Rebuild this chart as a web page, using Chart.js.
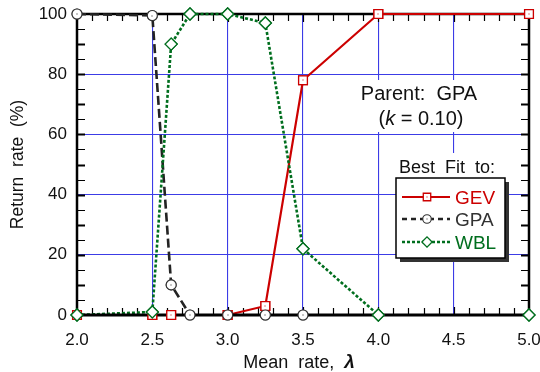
<!DOCTYPE html>
<html>
<head>
<meta charset="utf-8">
<script src="https://cdn.jsdelivr.net/npm/chart.js@4/dist/chart.umd.min.js"></script>
<style>
  html, body { margin: 0; padding: 0; background: #fff; }
  #wrap { width: 540px; height: 372px; }
</style>
</head>
<body>
<div id="wrap"><canvas id="c" width="540" height="372"></canvas></div>
<script>
// Mean rate (lambda) at which each fit was evaluated
const meanRate  = [2.0, 2.5, 2.625, 2.75, 3.0, 3.25, 3.5, 4.0, 5.0];
// Return rate (%) of the best fit for each candidate distribution
const gevReturn = [0, 0, 0, null, 0, 3, 78, 100, 100];
const gpaReturn = [100, 99.5, 10, 0, 0, 0, 0, null, null];
const wblReturn = [0, 1, 90, 100, 100, 97, 22, 0, 0];
const seriesNames = ['GEV', 'GPA', 'WBL'];
const xTickValues = [2.0, 2.5, 3.0, 3.5, 4.0, 4.5, 5.0];
const yTickValues = [0, 20, 40, 60, 80, 100];

const FONT = '"Liberation Sans", Arial, Helvetica, sans-serif';
const RED = 'rgb(204,0,0)';
const DARK = 'rgb(35,35,35)';
const GREEN = 'rgb(0,110,30)';
const GRID = 'rgb(60,60,230)';

const toPoints = ys => meanRate.map((x, i) => ({ x, y: ys[i] }));

Chart.defaults.font.family = FONT;
Chart.defaults.font.size = 17;
Chart.defaults.color = '#111';

// frame, inward tick marks and white label panels
const framePlugin = {
  id: 'frame',
  beforeDatasetsDraw(chart) {
    const { ctx, chartArea: a, scales: { x, y } } = chart;
    ctx.save();
    ctx.fillStyle = '#fff';
    ctx.fillRect(352, 80, 134, 52);
    ctx.fillRect(398, 153, 104, 25);

    ctx.strokeStyle = '#000';
    for (let i = 1; i < 30; i++) {
      const px = Math.round(x.getPixelForValue(2 + i * 0.1)) + 0.5;
      const len = i % 5 === 0 ? 8 : 7;
      ctx.lineWidth = 1.2;
      ctx.beginPath();
      ctx.moveTo(px, a.bottom); ctx.lineTo(px, a.bottom - len);
      ctx.moveTo(px, a.top); ctx.lineTo(px, a.top + len);
      ctx.stroke();
    }
    for (let v = 5; v < 100; v += 5) {
      const py = Math.round(y.getPixelForValue(v)) + 0.5;
      ctx.lineWidth = v % 10 === 0 ? 2.2 : 1.2;
      ctx.beginPath();
      ctx.moveTo(a.left, py); ctx.lineTo(a.left + 8, py);
      ctx.moveTo(a.right, py); ctx.lineTo(a.right - 8, py);
      ctx.stroke();
    }
    ctx.lineWidth = 2.5;
    ctx.beginPath();
    ctx.moveTo(a.left, a.bottom); ctx.lineTo(a.left, a.top);
    ctx.lineTo(a.right, a.top); ctx.lineTo(a.right, a.bottom);
    ctx.stroke();
    ctx.restore();
  },
  afterDatasetsDraw(chart) {
    const { ctx, chartArea: a } = chart;
    ctx.save();
    ctx.strokeStyle = '#000';
    ctx.lineWidth = 3;
    ctx.beginPath();
    ctx.moveTo(a.left - 1.2, a.bottom); ctx.lineTo(a.right + 1.2, a.bottom);
    ctx.stroke();
    // markers sit above the axis line
    [0, 1, 2].forEach(i => {
      const meta = chart.getDatasetMeta(i);
      meta.data.forEach(pt => { if (!pt.skip) pt.draw(ctx, a); });
      if (i < 2) {
        ctx.fillStyle = i === 0 ? RED : DARK;
        meta.data.forEach(pt => { if (!pt.skip) ctx.fillRect(Math.round(pt.x) - 0.5, Math.round(pt.y) - 0.5, 1, 1); });
      }
    });
    ctx.restore();
  }
};

function drawMarker(ctx, style, x, y, r, stroke, lw) {
  ctx.save();
  ctx.fillStyle = '#fff';
  ctx.strokeStyle = stroke;
  ctx.lineWidth = lw;
  ctx.setLineDash([]);
  ctx.beginPath();
  if (style === 'rect') {
    const s = r * Math.SQRT1_2;
    ctx.rect(x - s, y - s, 2 * s, 2 * s);
  } else if (style === 'circle') {
    ctx.arc(x, y, r, 0, Math.PI * 2);
  } else {
    ctx.moveTo(x - r, y); ctx.lineTo(x, y - r); ctx.lineTo(x + r, y); ctx.lineTo(x, y + r); ctx.closePath();
  }
  ctx.fill();
  ctx.stroke();
  ctx.fillStyle = stroke;
  if (style !== 'rectRot') ctx.fillRect(Math.round(x) - 0.5, Math.round(y) - 0.5, 1, 1);
  ctx.restore();
}

// axis title with the lambda symbol, annotation and legend box
const textPlugin = {
  id: 'texts',
  afterDraw(chart) {
    const { ctx, chartArea: a } = chart;
    ctx.save();
    ctx.fillStyle = '#111';
    ctx.textBaseline = 'alphabetic';

    // x-axis title
    const t1 = 'Mean  rate,  ';
    ctx.font = '18px ' + FONT;
    const w1 = ctx.measureText(t1).width;
    ctx.font = 'italic bold 19px ' + FONT;
    const w2 = ctx.measureText('λ').width;
    const sx = (a.left + a.right) / 2 - (w1 + w2) / 2 - 4;
    ctx.textAlign = 'left';
    ctx.font = '18px ' + FONT;
    ctx.fillText(t1, sx, 368);
    ctx.font = 'italic bold 19px ' + FONT;
    ctx.fillText('λ', sx + w1, 368);

    // annotation
    ctx.font = '20px ' + FONT;
    ctx.textAlign = 'center';
    ctx.fillText('Parent:  GPA', 419, 100);
    const p1 = '(', p2 = 'k', p3 = ' = 0.10)';
    const a1 = ctx.measureText(p1).width, a3 = ctx.measureText(p3).width;
    ctx.font = 'italic 20px ' + FONT;
    const a2 = ctx.measureText(p2).width;
    const ax = 421 - (a1 + a2 + a3) / 2;
    ctx.textAlign = 'left';
    ctx.font = '20px ' + FONT;
    ctx.fillText(p1, ax, 125);
    ctx.font = 'italic 20px ' + FONT;
    ctx.fillText(p2, ax + a1, 125);
    ctx.font = '20px ' + FONT;
    ctx.fillText(p3, ax + a1 + a2, 125);

    ctx.font = '18px ' + FONT;
    ctx.textAlign = 'center';
    ctx.fillText('Best  Fit  to:', 447, 173);

    // legend box with shadow
    const bx = 396, by = 178, bw = 109, bh = 80;
    ctx.fillStyle = '#333';
    ctx.fillRect(bx + 4, by + 4, bw, bh);
    ctx.fillStyle = '#fff';
    ctx.fillRect(bx, by, bw, bh);
    ctx.strokeStyle = '#000';
    ctx.lineWidth = 1.5;
    ctx.strokeRect(bx, by, bw, bh);

    const rows = [197, 219, 242];
    const textColors = [RED, 'rgb(50,50,50)', GREEN];
    chart.data.datasets.forEach((ds, i) => {
      const yy = rows[i];
      ctx.save();
      ctx.strokeStyle = ds.borderColor;
      ctx.lineWidth = ds.borderWidth;
      ctx.setLineDash(i === 1 ? [5, 4] : (ds.borderDash || []));
      ctx.beginPath();
      ctx.moveTo(402, yy); ctx.lineTo(450, yy);
      ctx.stroke();
      ctx.restore();
      drawMarker(ctx, ds.pointStyle, 427, yy, ds.pointRadius * 0.85, ds.pointBorderColor, ds.pointBorderWidth);
      ctx.fillStyle = textColors[i];
      ctx.font = '19px ' + FONT;
      ctx.textAlign = 'left';
      ctx.fillText(ds.label, 455, yy + 7);
    });
    ctx.restore();
  }
};

const hideFlatZero = ctx =>
  (ctx.p0.parsed.y === 0 && ctx.p1.parsed.y === 0) ? 'rgba(0,0,0,0)' : undefined;

new Chart(document.getElementById('c'), {
  type: 'scatter',
  data: {
    datasets: [
      {
        label: seriesNames[0], data: toPoints(gevReturn), showLine: true, spanGaps: true,
        borderColor: RED, borderWidth: 2.2, order: 3, clip: false,
        pointStyle: 'rect', pointRadius: 6.2, pointBorderColor: RED, pointBorderWidth: 1.3,
        pointBackgroundColor: '#fff'
      },
      {
        label: seriesNames[1], data: toPoints(gpaReturn), showLine: true, spanGaps: true,
        borderColor: DARK, borderWidth: 2.6, borderDash: [9, 4], order: 2, clip: false,
        pointStyle: 'circle', pointRadius: 5, pointBorderColor: 'rgb(50,50,50)', pointBorderWidth: 1.1,
        pointBackgroundColor: '#fff'
      },
      {
        label: seriesNames[2], data: toPoints(wblReturn), showLine: true, spanGaps: true,
        borderColor: GREEN, borderWidth: 2.6, borderDash: [3, 2], order: 1, clip: false,
        pointStyle: 'rectRot', pointRadius: 6, pointBorderColor: GREEN, pointBorderWidth: 1.3,
        pointBackgroundColor: '#fff'
      }
    ]
  },
  options: {
    responsive: false,
    animation: false,
    devicePixelRatio: 1,
    layout: { padding: { top: 14, right: 11, bottom: 0, left: 0 } },
    datasets: { scatter: { segment: { borderColor: hideFlatZero } } },
    plugins: { legend: { display: false }, tooltip: { enabled: false } },
    scales: {
      x: {
        type: 'linear', min: 2, max: 5,
        afterBuildTicks: s => { s.ticks = xTickValues.map(value => ({ value })); },
        afterFit: s => { s.height = 57; s.paddingRight = 0; s.paddingLeft = 0; },
        ticks: { padding: 15, color: '#111', font: { size: 17 }, maxRotation: 0,
                 callback: v => Number(v).toFixed(1) },
        grid: { drawTicks: false, lineWidth: 1.1,
                color: c => (c.tick && (c.tick.value === 2 || c.tick.value === 5)) ? 'rgba(0,0,0,0)' : GRID },
        border: { display: false }
      },
      y: {
        type: 'linear', min: 0, max: 100,
        afterBuildTicks: s => { s.ticks = yTickValues.map(value => ({ value })); },
        afterFit: s => { s.width = 77; s.paddingTop = 0; s.paddingBottom = 0; },
        ticks: { padding: 10, color: '#111', font: { size: 17 } },
        title: { display: true, text: 'Return  rate  (%)', color: '#111',
                 font: { size: 17.5 }, padding: { top: 8, bottom: 0 } },
        grid: { drawTicks: false, lineWidth: 1.1,
                color: c => (c.tick && (c.tick.value === 0 || c.tick.value === 100)) ? 'rgba(0,0,0,0)' : GRID },
        border: { display: false }
      }
    }
  },
  plugins: [framePlugin, textPlugin]
});
</script>
</body>
</html>
